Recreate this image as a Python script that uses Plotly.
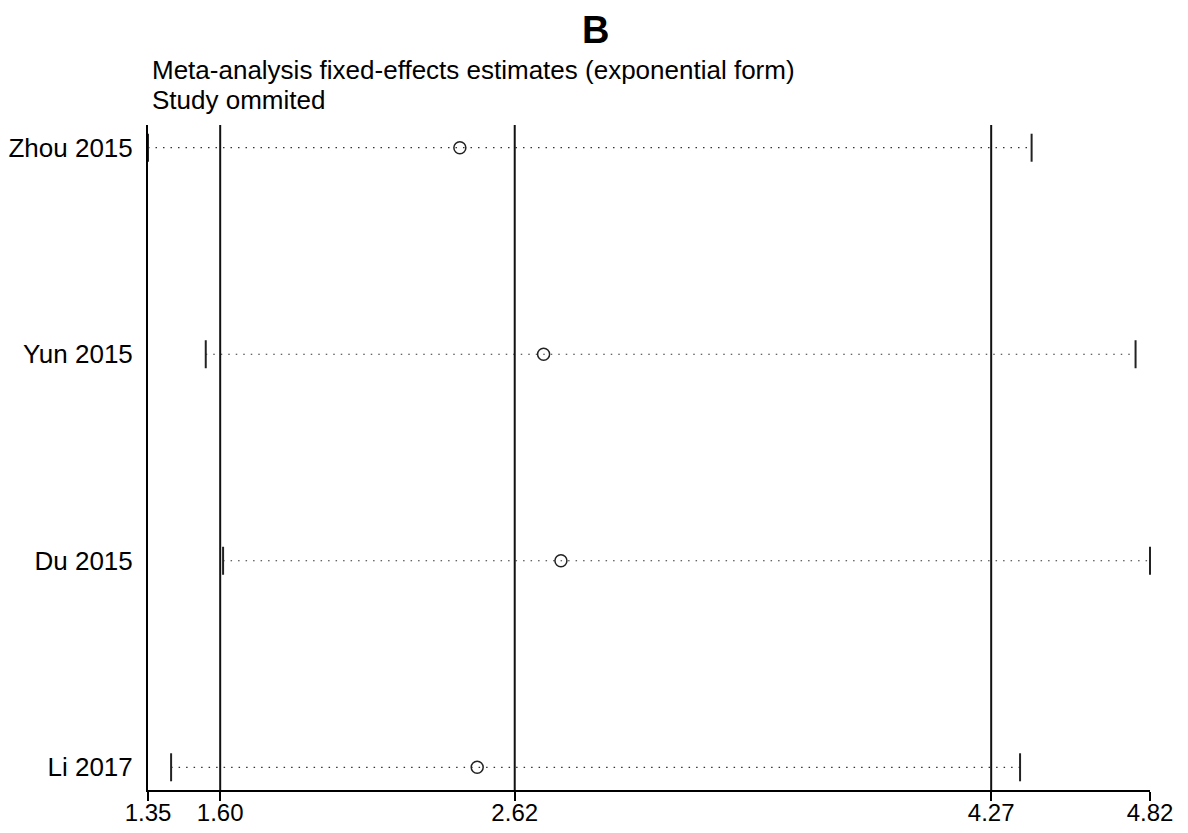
import plotly.graph_objects as go

studies = ["Zhou 2015", "Yun 2015", "Du 2015", "Li 2017"]
estimate = [2.43, 2.72, 2.78, 2.49]
lower = [1.35, 1.55, 1.61, 1.43]
upper = [4.41, 4.77, 4.82, 4.37]

combined = [1.60, 2.62, 4.27]  # lower CI, estimate, upper CI
tick_vals = [1.35, 1.60, 2.62, 4.27, 4.82]
tick_text = ["1.35", "1.60", "2.62", "4.27", "4.82"]

FONT = "Liberation Sans, Arial, sans-serif"
rows = list(range(1, len(studies) + 1))

fig = go.Figure()

for r, lo, hi in zip(rows, lower, upper):
    fig.add_trace(go.Scatter(
        x=[lo, hi], y=[r, r], mode="lines",
        line=dict(color="#333333", width=1.2, dash="1.5px,6px"),
        showlegend=False, hoverinfo="skip"))

fig.add_trace(go.Scatter(
    x=lower + upper, y=rows + rows, mode="markers",
    marker=dict(symbol="line-ns", size=20, line=dict(color="#222222", width=2)),
    showlegend=False, cliponaxis=False))

fig.add_trace(go.Scatter(
    x=estimate, y=rows, mode="markers",
    marker=dict(symbol="circle-open", size=12, color="#222222",
                line=dict(color="#222222", width=1.5)),
    showlegend=False))

for c in combined:
    fig.add_shape(type="line", xref="x", yref="paper", x0=c, x1=c, y0=0, y1=1,
                  line=dict(color="#111111", width=2))

# the page puts the figure 8px in from the window corner
OFF = 8
W, H = 1188 - 2 * OFF, 833 - 2 * OFF
L, T = 148 - OFF, 125 - OFF
R = W - (1150 - OFF)
B = H - (790 - OFF)
pw, ph = W - L - R, H - T - B


def px(x):
    return (x - OFF - L) / pw


def py(y):
    return 1 + (T - (y - OFF)) / ph


fig.update_layout(
    width=W, height=H,
    margin=dict(l=L, r=R, t=T, b=B, autoexpand=False),
    paper_bgcolor="white", plot_bgcolor="white",
    font=dict(family=FONT, color="black", size=26),
    xaxis=dict(range=[tick_vals[0], tick_vals[-1]], tickvals=tick_vals, ticktext=tick_text,
               showgrid=False, zeroline=False, showline=True, linecolor="black", linewidth=2,
               ticks="outside", ticklen=9, tickwidth=2, tickcolor="black", automargin=False,
               ticklabelstandoff=-9, tickfont=dict(size=24, family=FONT)),
    yaxis=dict(range=[len(studies) + 0.11, 0.89], tickvals=rows, ticktext=studies,
               showgrid=False, zeroline=False, showline=True, linecolor="black", linewidth=2,
               ticks="", ticklabelstandoff=8, automargin=False,
               tickfont=dict(size=26, family=FONT)),
    annotations=[
        dict(text="<b>B</b>", x=px(595), y=py(30),
             xref="paper", yref="paper", xanchor="center", yanchor="middle",
             showarrow=False, font=dict(size=38, family=FONT)),
        dict(text="Meta-analysis fixed-effects estimates (exponential form)",
             x=px(150), y=py(70), xref="paper", yref="paper",
             xanchor="left", yanchor="middle", showarrow=False,
             font=dict(size=26, family=FONT)),
        dict(text="Study ommited", x=px(150), y=py(100),
             xref="paper", yref="paper", xanchor="left", yanchor="middle",
             showarrow=False, font=dict(size=26, family=FONT)),
    ],
)

fig.write_html("out.html")
